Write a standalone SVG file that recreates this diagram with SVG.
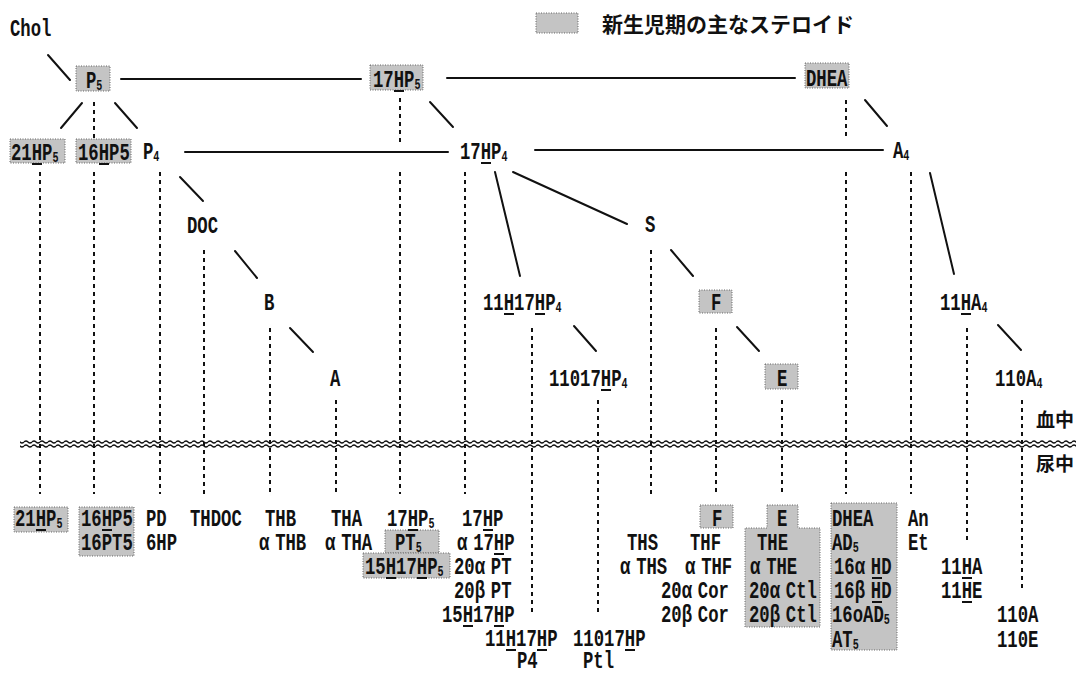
<svg xmlns="http://www.w3.org/2000/svg" width="1080" height="674" viewBox="0 0 1080 674">
<defs>
<style>
.t{font-family:"Liberation Mono","DejaVu Sans Mono",monospace;font-weight:bold;font-size:24px;fill:#111}
.s{font-size:14px}
.jp{font-family:"Noto Sans CJK JP","Noto Sans CJK SC",sans-serif;font-weight:bold;fill:#111}
.ln{stroke:#111;stroke-width:2;fill:none;stroke-linecap:round}
.dl{stroke:#111;stroke-width:2;stroke-dasharray:4 4;fill:none}
.sh{fill:#c4c4c4;stroke:#666;stroke-width:1;stroke-dasharray:1 1.5}
.ul{stroke:#111;stroke-width:2}
</style>
<pattern id="wave" x="0" y="439" width="8" height="10" patternUnits="userSpaceOnUse">
<path d="M0,3 Q2,1 4,3 T8,3 M0,7 Q2,5 4,7 T8,7" stroke="#111" stroke-width="1.3" fill="none"/>
</pattern>
</defs>
<rect width="1080" height="674" fill="#fff"/>

<g id="legend">
<rect class="sh" x="536" y="13" width="42" height="20"/>
<text class="jp" x="602" y="32" font-size="21">新生児期の主なステロイド</text>
</g>

<g id="compartments">
<rect x="20" y="439" width="1056" height="10" fill="url(#wave)"/>
<text class="jp" x="1036" y="427" font-size="19">血中</text>
<text class="jp" x="1036" y="471" font-size="19">尿中</text>
</g>

<g id="connectors">
<g class="ln">
<line x1="48" y1="55" x2="70" y2="80"/>
<line x1="82" y1="103" x2="61" y2="128"/>
<line x1="115" y1="103" x2="137" y2="128"/>
<line x1="121" y1="79" x2="361" y2="79"/>
<line x1="447" y1="78" x2="795" y2="78"/>
<line x1="185" y1="152" x2="448" y2="152"/>
<line x1="535" y1="150" x2="883" y2="150"/>
<line x1="430" y1="102" x2="453" y2="127"/>
<line x1="865" y1="100" x2="887" y2="126"/>
<line x1="180" y1="177" x2="203" y2="201"/>
<line x1="495" y1="172" x2="520" y2="276"/>
<line x1="513" y1="172" x2="627" y2="224"/>
<line x1="235" y1="251" x2="257" y2="278"/>
<line x1="671" y1="250" x2="693" y2="276"/>
<line x1="930" y1="173" x2="954" y2="274"/>
<line x1="290" y1="328" x2="313" y2="352"/>
<line x1="574" y1="326" x2="596" y2="351"/>
<line x1="737" y1="327" x2="759" y2="351"/>
<line x1="998" y1="325" x2="1021" y2="350"/>
</g>
<path class="dl" d="M40,172V494 M94,102V139 M94,172V494 M160,172V494 M204,250V494 M270,328V494 M336,400V494 M400,98V142 M400,172V494 M465,172V494 M532,328V612 M598,400V612 M651,250V494 M716,328V494 M782,400V494 M846,100V140 M846,172V494 M911,172V494 M967,328V540 M1022,400V588"/>
</g>

<g id="n-chol"><text class="t" transform="matrix(.72,0,0,1,10,36)">Chol</text></g>
<g id="n-p5"><rect class="sh" x="76" y="66" width="34" height="25"/><text class="t" transform="matrix(.72,0,0,1,86,88)">P<tspan class="s" dy="2">5</tspan></text></g>
<g id="n-17hp5"><rect class="sh" x="370" y="65" width="53" height="25"/><text class="t" transform="matrix(.72,0,0,1,373,87)">17HP<tspan class="s" dy="2">5</tspan></text><line class="ul" x1="394" y1="91" x2="404" y2="91"/></g>
<g id="n-dhea"><rect class="sh" x="805" y="63" width="44" height="25"/><text class="t" transform="matrix(.72,0,0,1,806,86)">DHEA</text></g>

<g id="n-21hp5"><rect class="sh" x="10" y="139" width="55" height="24"/><text class="t" transform="matrix(.72,0,0,1,11,160)">21HP<tspan class="s" dy="2">5</tspan></text><line class="ul" x1="32" y1="164" x2="42" y2="164"/></g>
<g id="n-16hp5"><rect class="sh" x="76" y="139" width="55" height="24"/><text class="t" transform="matrix(.72,0,0,1,78,160)">16HP5</text><line class="ul" x1="99" y1="164" x2="109" y2="164"/></g>
<g id="n-p4"><text class="t" transform="matrix(.72,0,0,1,143,159)">P<tspan class="s" dy="2">4</tspan></text></g>
<g id="n-17hp4"><text class="t" transform="matrix(.72,0,0,1,460,159)">17HP<tspan class="s" dy="2">4</tspan></text><line class="ul" x1="481" y1="163" x2="491" y2="163"/></g>
<g id="n-a4"><text class="t" transform="matrix(.72,0,0,1,893,158)">A<tspan class="s" dy="2">4</tspan></text></g>

<g id="n-doc"><text class="t" transform="matrix(.72,0,0,1,187,233)">DOC</text></g>
<g id="n-s"><text class="t" transform="matrix(.72,0,0,1,645,232)">S</text></g>

<g id="n-b"><text class="t" transform="matrix(.72,0,0,1,264,310)">B</text></g>
<g id="n-11h17hp4"><text class="t" transform="matrix(.72,0,0,1,483,310)">11H17HP<tspan class="s" dy="2">4</tspan></text><line class="ul" x1="504" y1="314" x2="514" y2="314"/><line class="ul" x1="535" y1="314" x2="545" y2="314"/></g>
<g id="n-f"><rect class="sh" x="699" y="290" width="33" height="23"/><text class="t" transform="matrix(.72,0,0,1,711,310)">F</text></g>
<g id="n-11ha4"><text class="t" transform="matrix(.72,0,0,1,940,310)">11HA<tspan class="s" dy="2">4</tspan></text><line class="ul" x1="961" y1="314" x2="971" y2="314"/></g>

<g id="n-a"><text class="t" transform="matrix(.72,0,0,1,330,386)">A</text></g>
<g id="n-11017hp4"><text class="t" transform="matrix(.72,0,0,1,549,386)">11017HP<tspan class="s" dy="2">4</tspan></text><line class="ul" x1="601" y1="390" x2="611" y2="390"/></g>
<g id="n-e"><rect class="sh" x="765" y="364" width="33" height="25"/><text class="t" transform="matrix(.72,0,0,1,777,386)">E</text></g>
<g id="n-110a4"><text class="t" transform="matrix(.72,0,0,1,995,386)">110A<tspan class="s" dy="2">4</tspan></text></g>

<g id="u-21hp5"><rect class="sh" x="14" y="507" width="54" height="25"/><text class="t" transform="matrix(.72,0,0,1,15,526)">21HP<tspan class="s" dy="2">5</tspan></text><line class="ul" x1="36" y1="530" x2="46" y2="530"/></g>
<g id="u-16hp5"><rect class="sh" x="79" y="507" width="55" height="49"/><text class="t" transform="matrix(.72,0,0,1,81,526)">16HP5</text><text class="t" transform="matrix(.72,0,0,1,81,550)">16PT5</text><line class="ul" x1="102" y1="530" x2="112" y2="530"/></g>
<g id="u-pd"><text class="t" transform="matrix(.72,0,0,1,146,526)">PD</text><text class="t" transform="matrix(.72,0,0,1,146,550)">6HP</text></g>
<g id="u-thdoc"><text class="t" transform="matrix(.72,0,0,1,190,526)">THDOC</text></g>
<g id="u-thb"><text class="t" transform="matrix(.72,0,0,1,265,526)">THB</text><text class="t" transform="matrix(.72,0,0,1,259,550)">α<tspan dx="8">THB</tspan></text></g>
<g id="u-tha"><text class="t" transform="matrix(.72,0,0,1,331,526)">THA</text><text class="t" transform="matrix(.72,0,0,1,325,550)">α<tspan dx="8">THA</tspan></text></g>
<g id="u-17hp5"><rect class="sh" x="385" y="530" width="54" height="23"/><rect class="sh" x="363" y="553" width="87" height="25"/>
<text class="t" transform="matrix(.72,0,0,1,387,526)">17HP<tspan class="s" dy="2">5</tspan></text>
<text class="t" transform="matrix(.72,0,0,1,395,550)">PT<tspan class="s" dy="2">5</tspan></text>
<text class="t" transform="matrix(.72,0,0,1,365,574)">15H17HP<tspan class="s" dy="2">5</tspan></text>
<line class="ul" x1="408" y1="530" x2="418" y2="530"/><line class="ul" x1="386" y1="578" x2="396" y2="578"/><line class="ul" x1="417" y1="578" x2="427" y2="578"/></g>
<g id="u-17hp">
<text class="t" transform="matrix(.72,0,0,1,462,526)">17HP</text>
<text class="t" transform="matrix(.72,0,0,1,457,550)">α<tspan dx="8">17HP</tspan></text>
<text class="t" transform="matrix(.72,0,0,1,454,574)">20α<tspan dx="8">PT</tspan></text>
<text class="t" transform="matrix(.72,0,0,1,454,598)">20β<tspan dx="8">PT</tspan></text>
<text class="t" transform="matrix(.72,0,0,1,442,622)">15H17HP</text>
<line class="ul" x1="483" y1="530" x2="493" y2="530"/><line class="ul" x1="494" y1="554" x2="504" y2="554"/><line class="ul" x1="463" y1="626" x2="473" y2="626"/><line class="ul" x1="494" y1="626" x2="504" y2="626"/></g>
<g id="u-11h17hp"><text class="t" transform="matrix(.72,0,0,1,485,646)">11H17HP</text><text class="t" transform="matrix(.72,0,0,1,517,668)">P4</text><line class="ul" x1="506" y1="650" x2="516" y2="650"/><line class="ul" x1="537" y1="650" x2="547" y2="650"/></g>
<g id="u-11017hp"><text class="t" transform="matrix(.72,0,0,1,573,646)">11017HP</text><text class="t" transform="matrix(.72,0,0,1,583,668)">Ptl</text><line class="ul" x1="625" y1="650" x2="635" y2="650"/></g>
<g id="u-ths"><text class="t" transform="matrix(.72,0,0,1,627,550)">THS</text><text class="t" transform="matrix(.72,0,0,1,620,574)">α<tspan dx="8">THS</tspan></text></g>
<g id="u-f"><rect class="sh" x="700" y="505" width="33" height="23"/><text class="t" transform="matrix(.72,0,0,1,712,526)">F</text>
<text class="t" transform="matrix(.72,0,0,1,690,550)">THF</text>
<text class="t" transform="matrix(.72,0,0,1,685,574)">α<tspan dx="8">THF</tspan></text>
<text class="t" transform="matrix(.72,0,0,1,661,598)">20α<tspan dx="8">Cor</tspan></text>
<text class="t" transform="matrix(.72,0,0,1,661,622)">20β<tspan dx="8">Cor</tspan></text></g>
<g id="u-e"><path class="sh" d="M767,505H798V528H820V627H745V528H767Z"/>
<text class="t" transform="matrix(.72,0,0,1,777,526)">E</text>
<text class="t" transform="matrix(.72,0,0,1,757,550)">THE</text>
<text class="t" transform="matrix(.72,0,0,1,750,574)">α<tspan dx="8">THE</tspan></text>
<text class="t" transform="matrix(.72,0,0,1,749,598)">20α<tspan dx="8">Ctl</tspan></text>
<text class="t" transform="matrix(.72,0,0,1,749,622)">20β<tspan dx="8">Ctl</tspan></text></g>
<g id="u-dhea"><rect class="sh" x="831" y="503" width="66" height="147"/>
<text class="t" transform="matrix(.72,0,0,1,832,526)">DHEA</text>
<text class="t" transform="matrix(.72,0,0,1,832,550)">AD<tspan class="s" dy="2">5</tspan></text>
<text class="t" transform="matrix(.72,0,0,1,834,574)">16α<tspan dx="8">HD</tspan></text>
<text class="t" transform="matrix(.72,0,0,1,834,598)">16β<tspan dx="8">HD</tspan></text>
<text class="t" transform="matrix(.72,0,0,1,832,622)">16oAD<tspan class="s" dy="2">5</tspan></text>
<text class="t" transform="matrix(.72,0,0,1,832,647)">AT<tspan class="s" dy="2">5</tspan></text>
<line class="ul" x1="872" y1="578" x2="882" y2="578"/><line class="ul" x1="872" y1="602" x2="882" y2="602"/></g>
<g id="u-an"><text class="t" transform="matrix(.72,0,0,1,908,526)">An</text><text class="t" transform="matrix(.72,0,0,1,908,550)">Et</text></g>
<g id="u-11ha"><text class="t" transform="matrix(.72,0,0,1,941,574)">11HA</text><text class="t" transform="matrix(.72,0,0,1,941,598)">11HE</text><line class="ul" x1="962" y1="578" x2="972" y2="578"/><line class="ul" x1="962" y1="602" x2="972" y2="602"/></g>
<g id="u-110a"><text class="t" transform="matrix(.72,0,0,1,997,622)">110A</text><text class="t" transform="matrix(.72,0,0,1,997,647)">110E</text></g>
</svg>
